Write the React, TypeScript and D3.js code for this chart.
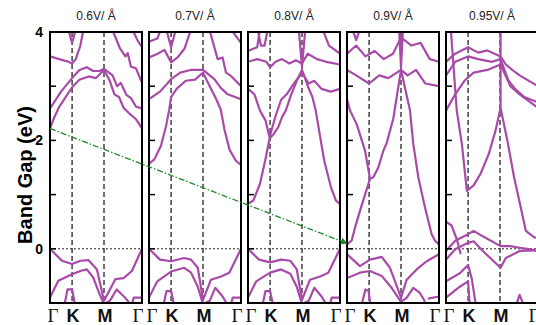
import React, { useEffect, useRef } from "react";
import * as d3 from "d3";

// field strength above each panel
const fieldLabels = ["0.6V/ Å", "0.7V/ Å", "0.8V/ Å", "0.9V/ Å", "0.95V/ Å"];

// high symmetry points along the path (fraction of panel width)
const kLabels = ["Γ", "K", "M", "Γ"];
const kPositions = [0, 0.24, 0.587, 1];

const yTicks = [-1, 0, 1, 2, 3, 4];
const yTickLabels = [0, 2, 4];

// band gap trend arrow: [panel index, k, energy]
const arrowStart = [0, 0, 2.22];
const arrowEnd = [3, 0, 0.1];

// bands, each one a list of [k, E]
const bands06 = [
  [[0, 0], [0.13, -0.22], [0.24, -0.28], [0.33, -0.22], [0.42, -0.21], [0.51, -0.38], [0.587, -0.96], [0.71, -0.56], [0.8, -0.54], [0.89, -0.41], [1, 0]],
  [[0, -0.9], [0.09, -0.59], [0.24, -0.47], [0.33, -0.41], [0.4, -0.38], [0.47, -0.53], [0.54, -0.84], [0.587, -1.02], [0.65, -0.96], [0.725, -0.75], [0.815, -0.9], [0.888, -1.05]],
  [[0.15, -1.1], [0.19, -0.75], [0.24, -0.75], [0.28, -1.1]],
  [[0.88, -1.1], [0.91, -0.9], [1, -0.9]],
  [[0, 2.22], [0.04, 2.4], [0.1, 2.62], [0.17, 2.8], [0.24, 2.98], [0.32, 3.12], [0.42, 3.18], [0.5, 3.15], [0.587, 3.3], [0.65, 3.1], [0.7, 2.85], [0.75, 2.8], [0.8, 2.6], [0.86, 2.5], [0.93, 2.4], [0.97, 2.3], [1, 2.22]],
  [[0, 2.59], [0.12, 2.9], [0.24, 3.15], [0.32, 3.3], [0.4, 3.35], [0.47, 3.28], [0.54, 3.28], [0.587, 3.32], [0.68, 3.2], [0.73, 3.0], [0.77, 3.06], [0.83, 2.84], [0.88, 2.78], [0.935, 2.62], [1, 2.59]],
  [[0, 3.55], [0.1, 3.5], [0.2, 3.45], [0.24, 3.42], [0.28, 3.5], [0.33, 3.75], [0.37, 4.1]],
  [[0.19, 4.1], [0.24, 3.8], [0.29, 4.1]],
  [[0.66, 4.1], [0.7, 3.95], [0.76, 3.7], [0.82, 3.55], [0.845, 3.61], [0.88, 3.36], [0.935, 3.33], [1, 3.06]],
  [[0.88, 4.1], [0.95, 3.85], [1, 3.72]],
];

const bands07 = [
  [[0, 0], [0.12, -0.2], [0.24, -0.23], [0.383, -0.17], [0.457, -0.2], [0.53, -0.35], [0.587, -0.94], [0.674, -0.57], [0.783, -0.51], [0.873, -0.44], [1, 0]],
  [[0, -0.9], [0.09, -0.6], [0.24, -0.42], [0.383, -0.35], [0.457, -0.44], [0.53, -0.7], [0.587, -1.02], [0.66, -0.96], [0.72, -0.72], [0.8, -0.88], [0.86, -1.05]],
  [[0.15, -1.1], [0.19, -0.78], [0.24, -0.78], [0.28, -1.1]],
  [[0.88, -1.1], [0.91, -0.9], [1, -0.9]],
  [[0, 1.57], [0.058, 1.65], [0.13, 1.9], [0.185, 2.26], [0.22, 2.57], [0.24, 2.8], [0.3, 2.95], [0.4, 3.1], [0.5, 3.12], [0.587, 3.25], [0.66, 3.0], [0.72, 2.8], [0.78, 2.57], [0.82, 2.2], [0.875, 1.83], [0.946, 1.62], [1, 1.55]],
  [[0, 2.76], [0.12, 2.9], [0.24, 3.13], [0.34, 3.25], [0.45, 3.3], [0.587, 3.3], [0.71, 3.13], [0.78, 2.97], [0.855, 2.85], [1, 2.76]],
  [[0, 3.53], [0.094, 3.6], [0.167, 3.67], [0.24, 3.44], [0.31, 3.53], [0.385, 3.69], [0.457, 4.05]],
  [[0, 3.82], [0.09, 3.88], [0.13, 4.05]],
  [[0.18, 4.1], [0.24, 3.72], [0.3, 4.1]],
  [[0.656, 4.05], [0.746, 3.5], [0.8, 3.53], [0.837, 3.25], [0.891, 3.19], [1, 3.0]],
  [[0.89, 4.05], [1, 3.8]],
];

const bands08 = [
  [[0, 0], [0.12, -0.2], [0.24, -0.25], [0.36, -0.2], [0.46, -0.22], [0.53, -0.38], [0.587, -0.94], [0.674, -0.57], [0.783, -0.51], [0.873, -0.44], [1, 0]],
  [[0, -0.9], [0.09, -0.6], [0.24, -0.44], [0.36, -0.38], [0.46, -0.46], [0.53, -0.7], [0.587, -1.02], [0.66, -0.96], [0.72, -0.72], [0.8, -0.88], [0.86, -1.05]],
  [[0.15, -1.1], [0.19, -0.78], [0.24, -0.78], [0.28, -1.1]],
  [[0.88, -1.1], [0.91, -0.9], [1, -0.9]],
  [[0, 0.83], [0.058, 0.89], [0.13, 1.2], [0.187, 1.63], [0.234, 2.03], [0.28, 2.12], [0.33, 2.25], [0.37, 2.43], [0.41, 2.55], [0.47, 2.85], [0.53, 3.1], [0.587, 3.3], [0.65, 3.0], [0.7, 2.8], [0.736, 2.55], [0.773, 2.18], [0.828, 1.63], [0.901, 1.14], [0.956, 0.89], [1, 0.83]],
  [[0, 2.95], [0.07, 2.85], [0.13, 2.55], [0.19, 2.37], [0.234, 2.06], [0.3, 2.45], [0.36, 2.75], [0.42, 2.85], [0.5, 3.05], [0.587, 3.25], [0.66, 3.05], [0.72, 3.1], [0.8, 2.95], [0.9, 2.9], [1, 2.95]],
  [[0, 3.45], [0.1, 3.5], [0.2, 3.45], [0.24, 3.35], [0.3, 3.45], [0.37, 3.5], [0.45, 3.42], [0.52, 3.48], [0.587, 3.42], [0.65, 3.6], [0.75, 3.5], [0.85, 3.45], [1, 3.4]],
  [[0, 3.65], [0.1, 3.72], [0.13, 4.05]],
  [[0.1, 4.1], [0.14, 3.75], [0.18, 3.75], [0.22, 4.1]],
  [[0.55, 4.1], [0.587, 3.35], [0.625, 4.1]],
  [[0.8, 4.1], [0.88, 3.75], [1, 3.6]],
];

const bands09 = [
  [[0, -0.1], [0.141, -0.32], [0.25, -0.2], [0.377, -0.15], [0.467, -0.35], [0.522, -0.6], [0.587, -0.9], [0.649, -0.57], [0.757, -0.38], [0.866, -0.23], [1, -0.1]],
  [[0, -0.54], [0.141, -0.44], [0.25, -0.41], [0.377, -0.5], [0.485, -0.72], [0.587, -0.98], [0.65, -0.9], [0.72, -0.72], [0.79, -0.81], [0.84, -0.95], [0.86, -1.1]],
  [[0.15, -1.1], [0.2, -0.75], [0.235, -0.78], [0.26, -1.1]],
  [[0.88, -0.92], [1, -0.88]],
  [[0, 0.08], [0.05, 0.15], [0.087, 0.39], [0.141, 0.7], [0.196, 1.0], [0.25, 1.29], [0.286, 1.32], [0.34, 1.5], [0.395, 1.81], [0.431, 1.95], [0.503, 2.4], [0.587, 3.3], [0.685, 2.55], [0.72, 1.94], [0.775, 1.32], [0.848, 0.76], [0.92, 0.27], [0.957, 0.15], [1, 0.08]],
  [[0, 2.75], [0.033, 2.55], [0.105, 2.3], [0.196, 1.81], [0.25, 1.29]],
  [[0, 3.3], [0.1, 3.2], [0.24, 3.05], [0.35, 3.2], [0.45, 3.15], [0.587, 3.3], [0.66, 3.2], [0.75, 3.3], [0.85, 3.05], [1, 3.0]],
  [[0, 3.6], [0.1, 3.75], [0.2, 3.55], [0.3, 3.65], [0.4, 3.5], [0.5, 3.6], [0.587, 3.9], [0.7, 3.75], [0.8, 3.8], [0.9, 3.5], [1, 3.45]],
  [[0.05, 4.1], [0.1, 3.85], [0.15, 4.1]],
  [[0.565, 4.1], [0.587, 3.35], [0.61, 4.1]],
];

const bands095 = [
  [[0, -0.04], [0.1, 0.15], [0.24, 0.27], [0.3, 0.33], [0.4, 0.23], [0.593, 0.05], [0.7, 0.05], [0.8, 0.02], [0.92, -0.01], [1, -0.04]],
  [[0, -0.2], [0.1, -0.01], [0.24, 0.11], [0.3, 0.14], [0.4, -0.04], [0.593, -0.35], [0.65, -0.17], [0.8, -0.04], [1, -0.03]],
  [[0, -0.6], [0.15, -0.45], [0.24, -0.3], [0.28, -0.55], [0.33, -1.1]],
  [[0, -0.9], [0.15, -0.7], [0.24, -0.6], [0.26, -1.1]],
  [[0.75, -1.1], [0.8, -0.85], [0.86, -1.1]],
  [[0, 0.5], [0.06, 0.43], [0.117, 0.18], [0.16, -0.1]],
  [[0.05, 4.1], [0.117, 2.55], [0.172, 1.94], [0.227, 1.07], [0.3, 1.17], [0.374, 1.38], [0.465, 1.75], [0.538, 2.18], [0.593, 2.6], [0.593, 4.1]],
  [[0.593, 2.6], [0.667, 2.0], [0.74, 1.32], [0.813, 0.76], [0.868, 0.33], [0.96, 0.21], [1, 0.2]],
  [[0, 2.55], [0.1, 2.85], [0.2, 3.1], [0.3, 3.25], [0.45, 3.3], [0.593, 3.4], [0.7, 3.0], [0.8, 2.85], [1, 2.6]],
  [[0, 3.2], [0.1, 3.45], [0.24, 3.55], [0.35, 3.5], [0.5, 3.45], [0.593, 3.5], [0.68, 3.1], [0.75, 2.95], [0.85, 2.8], [1, 2.7]],
  [[0, 3.45], [0.1, 3.6], [0.24, 3.72], [0.35, 3.62], [0.45, 3.66], [0.593, 3.55], [0.65, 3.4], [0.72, 3.3], [0.8, 3.2], [1, 3.0]],
];

const panelBands = [bands06, bands07, bands08, bands09, bands095];

const BandStructure = () => {
  const ref = useRef(null);

  const width = 536;
  const height = 325;
  const margin = { top: 32, left: 50, bottom: 22 };
  const panelWidth = 92;
  const panelStep = 99;

  useEffect(() => {
    const svg = d3.select(ref.current);
    svg.selectAll("*").remove();

    const y = d3.scaleLinear().domain([-1, 4]).range([height - margin.bottom, margin.top]);
    const panelX = (i) =>
      d3.scaleLinear().domain([0, 1]).range([margin.left + i * panelStep, margin.left + i * panelStep + panelWidth]);

    const defs = svg.append("defs");
    defs.append("marker")
      .attr("id", "gapArrow")
      .attr("viewBox", "0 0 10 10")
      .attr("refX", 9)
      .attr("refY", 5)
      .attr("markerWidth", 7)
      .attr("markerHeight", 7)
      .attr("markerUnits", "userSpaceOnUse")
      .attr("orient", "auto")
      .append("path")
      .attr("d", "M0,0L10,5L0,10Z")
      .attr("fill", "#1f8a2a");

    panelBands.forEach((bands, i) => {
      const x = panelX(i);
      const g = svg.append("g");

      defs.append("clipPath")
        .attr("id", `clip${i}`)
        .append("rect")
        .attr("x", x(0))
        .attr("y", y(4))
        .attr("width", x(1) - x(0))
        .attr("height", y(-1) - y(4));

      // dashed lines at K and M
      g.selectAll(".kline")
        .data(kPositions.slice(1, 3))
        .enter().append("line")
        .attr("x1", (d) => x(d))
        .attr("x2", (d) => x(d))
        .attr("y1", y(4))
        .attr("y2", y(-1))
        .attr("stroke", "#222")
        .attr("stroke-width", 1.3)
        .attr("stroke-dasharray", "5,3");

      // Fermi level
      g.append("line")
        .attr("x1", x(0))
        .attr("x2", x(1))
        .attr("y1", y(0))
        .attr("y2", y(0))
        .attr("stroke", "#222")
        .attr("stroke-width", 1)
        .attr("stroke-dasharray", "2,2");

      const line = d3.line()
        .x((d) => x(d[0]))
        .y((d) => y(d[1]));

      g.append("g")
        .attr("clip-path", `url(#clip${i})`)
        .selectAll("path")
        .data(bands)
        .enter().append("path")
        .attr("d", line)
        .attr("fill", "none")
        .attr("stroke", "#a84ba8")
        .attr("stroke-width", 2.2)
        .attr("stroke-linejoin", "round");

      // inner ticks on the left edge
      g.selectAll(".tick")
        .data(yTicks)
        .enter().append("line")
        .attr("x1", x(0))
        .attr("x2", x(0) + 6)
        .attr("y1", (d) => y(d))
        .attr("y2", (d) => y(d))
        .attr("stroke", "#000")
        .attr("stroke-width", 1.5);

      g.append("rect")
        .attr("x", x(0))
        .attr("y", y(4))
        .attr("width", x(1) - x(0))
        .attr("height", y(-1) - y(4))
        .attr("fill", "none")
        .attr("stroke", "#000")
        .attr("stroke-width", 2);

      g.append("text")
        .attr("x", (x(0) + x(1)) / 2)
        .attr("y", 20)
        .attr("text-anchor", "middle")
        .attr("font-family", "Liberation Sans, Arial, sans-serif")
        .attr("font-size", 12)
        .attr("fill", "#222")
        .text(fieldLabels[i]);

      g.selectAll(".klabel")
        .data(kLabels)
        .enter().append("text")
        .attr("x", (d, j) => x(kPositions[j]) + (j === 0 ? 3 : j === 3 ? -4 : 1))
        .attr("y", 322)
        .attr("text-anchor", "middle")
        .attr("font-family", (d) => (d === "Γ" ? "Liberation Serif, Times New Roman, serif" : "Liberation Sans, Arial, sans-serif"))
        .attr("font-weight", (d) => (d === "Γ" ? "normal" : "bold"))
        .attr("font-size", (d) => (d === "Γ" ? 19 : 18))
        .attr("fill", "#111")
        .text((d) => d);
    });

    // tick labels on the first panel
    svg.selectAll(".ylabel")
      .data(yTickLabels)
      .enter().append("text")
      .attr("x", 43)
      .attr("y", (d) => y(d))
      .attr("dy", "0.36em")
      .attr("text-anchor", "end")
      .attr("font-family", "Liberation Sans, Arial, sans-serif")
      .attr("font-weight", "bold")
      .attr("font-size", 14)
      .text((d) => d);

    svg.append("text")
      .attr("transform", `translate(32, 175) rotate(-90)`)
      .attr("text-anchor", "middle")
      .attr("font-family", "Liberation Sans, Arial, sans-serif")
      .attr("font-weight", "bold")
      .attr("font-size", 20)
      .text("Band Gap (eV)");

    // band gap trend
    svg.append("line")
      .attr("x1", panelX(arrowStart[0])(arrowStart[1]))
      .attr("y1", y(arrowStart[2]))
      .attr("x2", panelX(arrowEnd[0])(arrowEnd[1]))
      .attr("y2", y(arrowEnd[2]))
      .attr("stroke", "#1f8a2a")
      .attr("stroke-width", 1.3)
      .attr("stroke-dasharray", "6,2,1.5,2")
      .attr("marker-end", "url(#gapArrow)");
  }, []);

  return (
    <svg
      ref={ref}
      width={width}
      height={height}
      style={{ position: "absolute", left: 0, top: 0, background: "#fff" }}
    ></svg>
  );
};

export default function App() {
  return <BandStructure />;
}
